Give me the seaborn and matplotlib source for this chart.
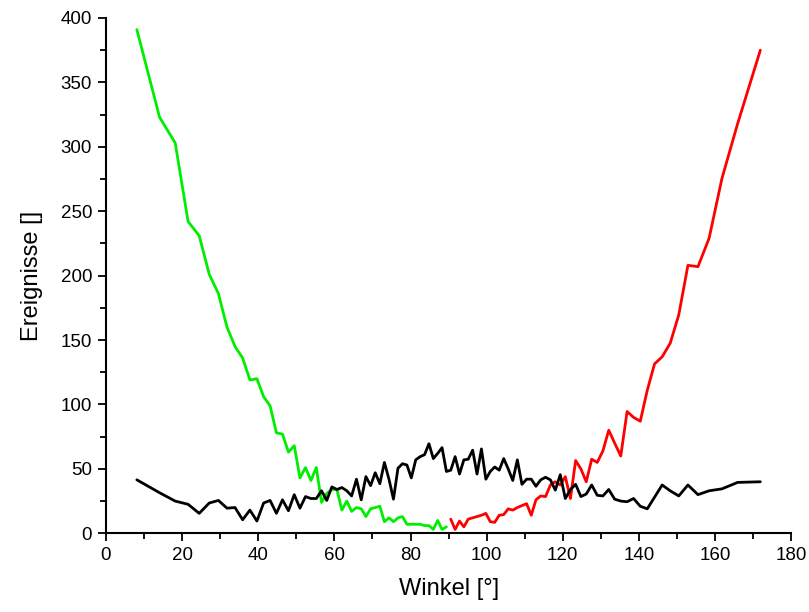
import matplotlib
matplotlib.use("Agg")
import matplotlib.pyplot as plt
from matplotlib.ticker import MultipleLocator
import seaborn as sns
import pandas as pd

# Bin centres (degrees)
angles = [8.11, 14.07, 18.19, 21.57, 24.49, 27.13, 29.54, 31.79, 33.90, 35.90,
          37.81, 39.65, 41.41, 43.11, 44.77, 46.37, 47.93, 49.46, 50.95, 52.41,
          53.84, 55.25, 56.63, 57.99, 59.34, 60.66, 61.97, 63.26, 64.53, 65.80,
          67.05, 68.28, 69.51, 70.73, 71.94, 73.14, 74.34, 75.52, 76.70, 77.88,
          79.05, 80.21, 81.37, 82.53, 83.68, 84.84, 85.99, 87.13, 88.28, 89.43,
          90.57, 91.72, 92.87, 94.01, 95.16, 96.32, 97.47, 98.63, 99.79, 100.95,
          102.12, 103.30, 104.48, 105.66, 106.86, 108.06, 109.27, 110.49, 111.72, 112.95,
          114.20, 115.47, 116.74, 118.03, 119.34, 120.66, 122.01, 123.37, 124.75, 126.16,
          127.59, 129.05, 130.54, 132.07, 133.63, 135.23, 136.89, 138.59, 140.35, 142.19,
          144.10, 146.10, 148.21, 150.46, 152.87, 155.51, 158.43, 161.81, 165.93, 171.89]

green_counts = [391, 323, 303, 242, 231, 201, 186, 160, 145, 136,
                119, 120, 106, 99, 78, 77, 63, 68, 43, 51,
                41, 51, 24, 31, 34, 34, 18, 25, 17, 20,
                19, 13, 19, 20, 21, 9, 12, 9, 12, 13,
                7, 7, 7, 7, 6, 6, 3, 10, 3, 5]

red_counts = [11, 3, 9.5, 5, 11, 12, 13, 14, 15.5, 9,
              8.5, 14, 14.5, 19, 18, 20, 21.5, 23, 14, 26,
              29, 28.5, 37.5, 40, 37.5, 44, 27, 56.5, 50, 40,
              57.5, 55, 64, 80, 70, 60, 94.5, 90, 87, 111,
              131.5, 137, 147.5, 169.5, 208, 207, 229, 275.5, 318, 375]

black_counts = [41.5, 31.5, 25, 22.5, 15.5, 23.5, 25.5, 19.5, 20, 10.5,
                18, 9.5, 23.5, 25.5, 15.5, 26, 17.5, 30, 19.5, 28.5,
                27, 27, 33, 25.5, 36, 34, 35.5, 33, 29, 42,
                26, 44, 37, 47, 38.5, 55, 42, 26.5, 50.5, 54,
                53, 43, 57, 59.5, 61, 69.5, 58, 62, 66.5, 48,
                49, 59.5, 46, 57, 57.5, 64.5, 46, 65.5, 42, 48,
                51.5, 49, 58, 50, 41, 57, 38, 42, 42, 36.5,
                41.5, 43.5, 41.5, 33.5, 45.5, 27, 34, 38, 28.5, 30.5,
                37.5, 29.5, 29, 34, 26.5, 25, 24.5, 27, 21, 19,
                28, 37.5, 33, 29, 37.5, 30, 33, 34.5, 39.5, 40]

x_label = "Winkel [°]"
y_label = "Ereignisse []"

sns.set_style("ticks")
plt.rcParams["font.family"] = ["Liberation Sans", "DejaVu Sans"]
plt.rcParams["text.color"] = "black"
plt.rcParams["axes.labelcolor"] = "black"

df_green = pd.DataFrame({"x": angles[:len(green_counts)], "y": green_counts})
df_red = pd.DataFrame({"x": angles[len(angles) - len(red_counts):], "y": red_counts})
df_black = pd.DataFrame({"x": angles, "y": black_counts})

fig = plt.figure(figsize=(8.09, 6.12), dpi=100)
ax = fig.add_axes([0.131, 0.1286, 0.847, 0.842])

sns.lineplot(data=df_green, x="x", y="y", color="#00ee00", linewidth=2.0, ax=ax)
sns.lineplot(data=df_red, x="x", y="y", color="#ff0000", linewidth=2.0, ax=ax)
sns.lineplot(data=df_black, x="x", y="y", color="#000000", linewidth=2.0, ax=ax)

ax.set_xlim(0, 180)
ax.set_ylim(0, 400)
ax.xaxis.set_major_locator(MultipleLocator(20))
ax.xaxis.set_minor_locator(MultipleLocator(10))
ax.yaxis.set_major_locator(MultipleLocator(50))
ax.yaxis.set_minor_locator(MultipleLocator(25))

sns.despine(ax=ax)
for s in ("left", "bottom"):
    ax.spines[s].set_linewidth(1.5)
    ax.spines[s].set_color("black")

ax.tick_params(which="major", direction="out", length=6, width=1.3, labelsize=13.5,
               colors="black", labelcolor="black", pad=4)
ax.tick_params(which="minor", direction="out", length=4.5, width=1.3, colors="black")

ax.set_xlabel(x_label, fontsize=17, labelpad=10, color="black")
ax.set_ylabel(y_label, fontsize=17, labelpad=13, color="black")

fig.savefig("out.png", dpi=100)
